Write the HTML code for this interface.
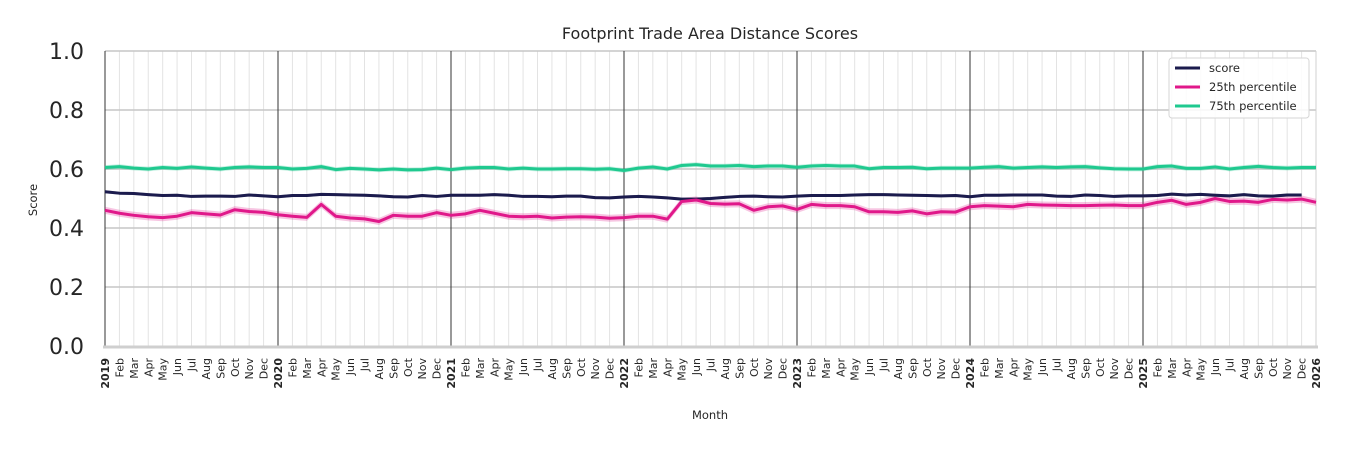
<!DOCTYPE html>
<html><head><meta charset="utf-8"><style>
body{margin:0;background:#fff;width:1350px;height:450px;overflow:hidden;font-family:"Liberation Sans","DejaVu Sans",sans-serif}
</style></head><body>
<svg id="s" width="1350" height="450" xmlns="http://www.w3.org/2000/svg" font-family="DejaVu Sans, Liberation Sans, sans-serif"></svg>
<script>
const X0=105,DX=14.4167,Y=v=>346-v*295,Xi=i=>X0+i*DX;
const sc=[0.523,0.518,0.517,0.513,0.510,0.511,0.507,0.508,0.508,0.507,0.512,0.509,0.506,0.510,0.510,0.514,0.513,0.512,0.511,0.509,0.506,0.505,0.510,0.507,0.511,0.511,0.511,0.513,0.511,0.507,0.507,0.506,0.508,0.508,0.503,0.502,0.505,0.507,0.505,0.502,0.498,0.498,0.500,0.504,0.507,0.508,0.506,0.505,0.508,0.510,0.510,0.510,0.512,0.513,0.513,0.512,0.511,0.510,0.509,0.510,0.506,0.511,0.511,0.512,0.512,0.512,0.508,0.507,0.512,0.510,0.507,0.509,0.509,0.510,0.515,0.512,0.514,0.511,0.509,0.513,0.509,0.508,0.512,0.512];
const p25=[.46,.45,.443,.438,.435,.44,.452,.448,.444,.462,.456,.453,.445,.44,.436,.48,.44,.434,.431,.422,.443,.44,.44,.452,.443,.448,.46,.45,.44,.438,.44,.434,.437,.438,.437,.433,.435,.44,.44,.43,.49,.495,.483,.481,.482,.46,.472,.475,.463,.48,.476,.476,.472,.455,.455,.453,.458,.448,.455,.454,.472,.476,.474,.472,.48,.478,.477,.476,.476,.477,.478,.476,.476,.487,.494,.48,.487,.5,.49,.491,.487,.497,.495,.498,.487];
const p75=[.605,.608,.603,.600,.605,.602,.607,.603,.600,.605,.607,.605,.605,.600,.602,.608,.598,.602,.600,.597,.600,.597,.598,.603,.598,.603,.605,.605,.600,.603,.600,.600,.601,.601,.599,.601,.595,.603,.607,.600,.612,.615,.610,.610,.612,.608,.610,.610,.606,.610,.612,.610,.610,.601,.605,.605,.606,.601,.603,.603,.603,.606,.608,.603,.605,.607,.605,.607,.608,.604,.601,.600,.600,.608,.610,.602,.602,.607,.600,.605,.609,.605,.603,.605,.605];
let h='';
// minor vertical grid
for(let i=0;i<=84;i++){if(i%12)h+=`<line x1="${Xi(i)}" x2="${Xi(i)}" y1="51" y2="346" stroke="#e3e3e3" stroke-width="1"/>`;}
for(let v=0.2;v<1.01;v+=0.2)h+=`<line x1="105" x2="1316" y1="${Y(v)}" y2="${Y(v)}" stroke="#c6c6c6" stroke-width="1.5"/>`;
h+=`<line x1="1316" x2="1316" y1="51" y2="346" stroke="#d0d0d0"/>`;
for(let i=12;i<84;i+=12)h+=`<line x1="${Xi(i)}" x2="${Xi(i)}" y1="51" y2="346" stroke="#333" stroke-width="1"/>`;
h+=`<line x1="105" x2="105" y1="51" y2="346" stroke="#333"/><line x1="103" x2="1318" y1="347" y2="347" stroke="#cfcfcf" stroke-width="3"/>`;
function band(a,w,c){let t=a.map((v,i)=>`${Xi(i)},${Y(v+w)}`).join(' '),b=a.map((v,i)=>`${Xi(i)},${Y(v-w)}`).reverse().join(' ');return `<polygon points="${t} ${b}" fill="${c}" opacity="0.25"/>`;}
function line(a,c){return `<polyline points="${a.map((v,i)=>`${Xi(i)},${Y(v)}`).join(' ')}" fill="none" stroke="${c}" stroke-width="3" stroke-linejoin="round"/>`;}
h+=band(p75,0.008,'#1fc98f')+band(p25,0.012,'#e0188a')+band(sc,0.005,'#1b1b4d');
h+=line(p75,'#1fc98f')+line(sc,'#1b1b4d')+line(p25,'#e0188a');
// y labels
for(let k=0;k<=5;k++){let v=k*0.2;h+=`<text x="84" y="${Y(v)+8}" font-size="22" fill="#262626" text-anchor="end">${v.toFixed(1)}</text>`;}
const M=['Jan','Feb','Mar','Apr','May','Jun','Jul','Aug','Sep','Oct','Nov','Dec'];
for(let i=0;i<=84;i++){let x=Xi(i)+4,yr=i%12==0;let t=yr?2019+i/12:M[i%12];h+=`<text transform="translate(${x},358) rotate(-90)" font-size="11" text-anchor="end" fill="#262626" ${yr?'font-weight="bold"':''}>${t}</text>`;}
h+=`<text x="710" y="39" font-size="16" text-anchor="middle" fill="#262626">Footprint Trade Area Distance Scores</text>`;
h+=`<text x="710" y="419" font-size="11.5" text-anchor="middle" fill="#262626">Month</text>`;
h+=`<text transform="translate(37,200) rotate(-90)" font-size="11.5" text-anchor="middle" fill="#262626">Score</text>`;
h+=`<rect x="1169" y="58" width="140" height="60" rx="3" fill="#fff" fill-opacity="0.85" stroke="#d6d6d6"/>`;
[['score','#1b1b4d'],['25th percentile','#e0188a'],['75th percentile','#1fc98f']].forEach((l,k)=>{let y=68+k*19;h+=`<line x1="1175" x2="1200" y1="${y}" y2="${y}" stroke="${l[1]}" stroke-width="3"/><text x="1209" y="${y+4}" font-size="11.5" fill="#262626">${l[0]}</text>`;});
document.getElementById('s').innerHTML=h;
</script>
</body></html>
